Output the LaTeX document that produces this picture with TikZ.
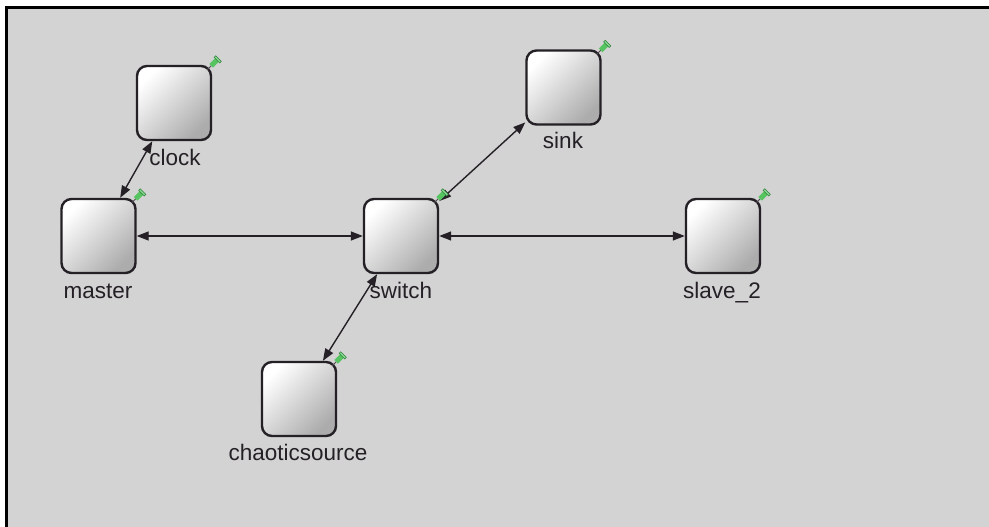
\documentclass[tikz,border=0pt]{standalone}
\usepackage{fontspec}
\setmainfont{Liberation Sans}
\usetikzlibrary{arrows.meta}
\definecolor{canvas}{RGB}{211,211,211}
\definecolor{ink}{RGB}{36,32,38}
\definecolor{boxshade}{RGB}{172,172,172}
\definecolor{pingreen}{RGB}{86,196,96}
\definecolor{pindark}{RGB}{44,130,56}

\begin{document}
\begin{tikzpicture}[x=1pt,y=-1pt,
  module/.style={draw=ink, line width=2.4pt, rounded corners=10pt,
    minimum width=74pt, minimum height=74pt, inner sep=0pt,
    top color=white, bottom color=boxshade, shading angle=45},
  lbl/.style={anchor=base, inner sep=0pt, text=ink,
    font=\fontsize{22.5}{27}\selectfont},
  link/.style={draw=ink, line width=1.4pt,
    {Triangle[length=12pt,width=9pt]}-{Triangle[length=12pt,width=9pt]}},
  pushpin/.pic={
    \draw[ink!80, line width=0.8pt] (-3,3) -- (2,-2);
    \draw[pingreen, line width=5pt] (1,-1) -- (7,-7);
    \draw[pindark, line width=2.8pt] (4.5,-10.5) -- (10.5,-4.5);
    \draw[pingreen!70!white, line width=1.5pt] (5,-10) -- (10,-5);
  }]

% canvas with its top and left frame
\useasboundingbox (0,0) rectangle (989,527);
\fill[white] (0,0) rectangle (989,527);
\fill[canvas] (5,6) rectangle (989,527);
\draw[black, line width=3pt] (6.5,527) -- (6.5,7.5) -- (989,7.5);

% modules
\node[module] (clock)   at (174,103)   {};
\node[module] (master)  at (98.5,236)  {};
\node[module] (sink)    at (563.5,87.5){};
\node[module] (switch)  at (401,236)   {};
\node[module] (slave2)  at (723,236)   {};
\node[module] (chaotic) at (299,399)   {};

% names under the modules
\node[lbl] (clock-l)   at (175,165)   {clock};
\node[lbl] (master-l)  at (98,298)    {master};
\node[lbl] (sink-l)    at (563,149)   {sink};
\node[lbl] (switch-l)  at (401,298)   {switch};
\node[lbl] (slave2-l)  at (722,298)   {slave\_2};
\node[lbl] (chaotic-l) at (298,460)   {chaoticsource};

% links
\draw[link] (clock) -- (master);
\draw[link] (master) -- (switch);
\draw[link] (switch) -- (slave2);
\draw[link] (switch) -- (sink);
\draw[link] (switch) -- (chaotic);

% pins on the modules
\foreach \m in {clock,master,sink,switch,slave2,chaotic}
  \pic at ([shift={(-2,2)}]\m.north east) {pushpin};
\end{tikzpicture}
\end{document}
